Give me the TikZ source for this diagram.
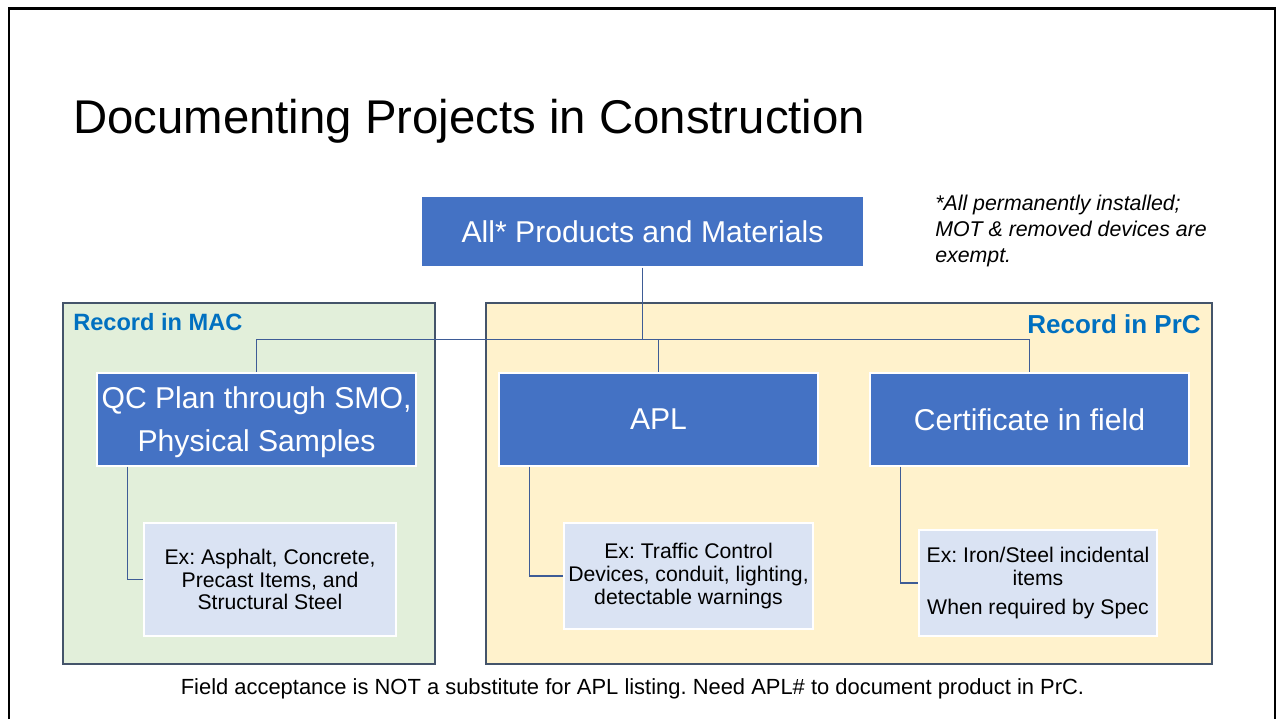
\documentclass[tikz,border=0pt]{standalone}
\usepackage{fontspec}
\setmainfont{Liberation Sans}
\usetikzlibrary{calc}
\frenchspacing
\definecolor{boxblue}{RGB}{68,114,196}
\definecolor{exfill}{RGB}{218,227,243}
\definecolor{macfill}{RGB}{226,239,218}
\definecolor{prcfill}{RGB}{255,242,204}
\definecolor{regionline}{RGB}{68,84,106}
\definecolor{labelblue}{RGB}{0,112,192}
\definecolor{connline}{RGB}{62,92,150}
\tikzset{
  region/.style={draw=regionline, line width=1.1pt, inner sep=0pt},
  mainbox/.style={draw=white, line width=1.1pt, fill=boxblue, text=white, inner sep=0pt, align=center,
    font=\fontsize{22.6pt}{32pt}\selectfont},
  exbox/.style={draw=white, line width=1.1pt, fill=exfill, text=black, inner sep=0pt, align=center,
    font=\fontsize{15.9pt}{17pt}\selectfont},
  reglabel/.style={text=labelblue, inner sep=0pt, font=\bfseries\fontsize{17.7pt}{20pt}\selectfont},
  conn/.style={draw=connline, line width=1pt},
}
\begin{document}
\begin{tikzpicture}[x=0.75pt,y=-0.75pt]
\useasboundingbox (0,0) rectangle (1277,719);
% frame
\draw[line width=1.9pt] (9,719) -- (9,8.5) -- (1275,8.5) -- (1275,719);
% title
\node[anchor=base west, inner sep=0pt, font=\fontsize{35.5pt}{40pt}\selectfont] (title) at (73,133) {Documenting Projects in Construction};
% regions
\node[region, fill=macfill, minimum width=279pt, minimum height=270.75pt] (mac) at (249,483.5) {};
\node[region, fill=prcfill, minimum width=544.5pt, minimum height=270.75pt] (prc) at (849,483.5) {};
\node[reglabel, anchor=west] (maclabel) at (73,322) {Record in MAC};
\node[reglabel, anchor=east, font=\bfseries\fontsize{19.5pt}{22pt}\selectfont] (prclabel) at (1201,324) {Record in PrC};
% main boxes
\node[mainbox, minimum width=332.25pt, minimum height=53.25pt] (top) at (642.5,231.5) {All* Products and Materials};
\node[mainbox, minimum width=239.25pt, minimum height=69.75pt] (qc) at (256.5,419.5) {\raisebox{-2pt}[\height][\depth]{\parbox{239pt}{\centering QC Plan through SMO,\\Physical Samples}}};
\node[mainbox, minimum width=239.25pt, minimum height=69.75pt] (apl) at (658.5,419.5) {APL};
\node[mainbox, minimum width=239.25pt, minimum height=69.75pt] (cert) at (1029.5,419.5) {Certificate in field};
% example boxes
\node[exbox, minimum width=189pt, minimum height=84.75pt] (ex1) at (270,579.5) {Ex: Asphalt, Concrete,\\Precast Items, and\\Structural Steel};
\node[exbox, minimum width=186.75pt, minimum height=79.5pt] (ex2) at (688.5,576) {Ex: Traffic Control\\Devices, conduit, lighting,\\detectable warnings};
\node[exbox, minimum width=178.5pt, minimum height=79.5pt] (ex3) at (1038,583) {Ex: Iron/Steel incidental\\items\\[5pt]When required by Spec};
% note
\node[anchor=west, align=left, inner sep=0pt, font=\itshape\fontsize{16pt}{19.3pt}\selectfont] (note) at (935,231)
  {*All permanently installed;\\MOT \& removed devices are\\exempt.};
% bottom text
\node[inner sep=0pt, font=\fontsize{16.45pt}{19pt}\selectfont] (foot) at (632.5,689)
  {Field acceptance is NOT a substitute for APL listing. Need APL\# to document product in PrC.};
% connectors
\coordinate (hub) at (642.5,339.5);
\draw[conn] (top.south) -- (hub);
\draw[conn] (hub) -| (qc.north);
\draw[conn] (hub) -| (apl.north);
\draw[conn] (hub) -| (cert.north);
\draw[conn] ($(qc.south west)+(31,0)$) |- (ex1.west);
\draw[conn] ($(apl.south west)+(31,0)$) |- (ex2.west);
\draw[conn] ($(cert.south west)+(31,0)$) |- (ex3.west);
\end{tikzpicture}
\end{document}
